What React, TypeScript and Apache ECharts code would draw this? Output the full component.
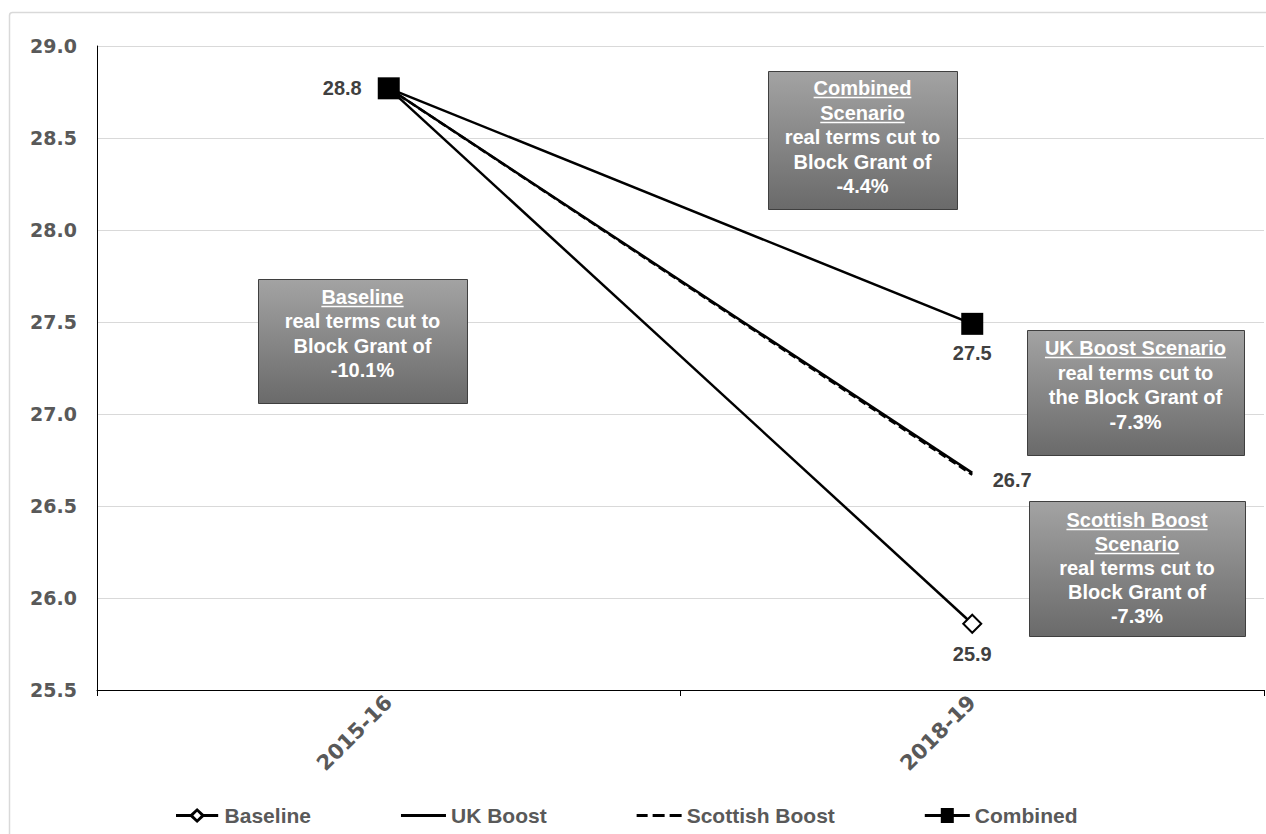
import React, { useEffect, useRef } from "react";
import * as echarts from "echarts";

const categories = ["2015-16", "2018-19"];
const baseline = [28.77, 25.86];
const ukBoost = [28.77, 26.68];
const scottishBoost = [28.77, 26.67];
const combined = [28.77, 27.49];
const seriesNames = ["Baseline", "UK Boost", "Scottish Boost", "Combined"];
const yMin = 25.5;
const yMax = 29.0;
const yInterval = 0.5;

const boxes = [
  { x: 258, y: 279, w: 209, h: 124, firstY: 297, lineH: 24.3, title: ["Baseline"], body: ["real terms cut to", "Block Grant of", "-10.1%"] },
  { x: 768, y: 71, w: 189, h: 138, firstY: 88, lineH: 24.5, title: ["Combined", "Scenario"], body: ["real terms cut to", "Block Grant of", "-4.4%"] },
  { x: 1027, y: 330, w: 217, h: 125, firstY: 348, lineH: 24.6, title: ["UK Boost Scenario"], body: ["real terms cut to", "the Block Grant of", "-7.3%"] },
  { x: 1029, y: 501, w: 216, h: 135, firstY: 520, lineH: 24, title: ["Scottish Boost", "Scenario"], body: ["real terms cut to", "Block Grant of", "-7.3%"] },
];

const FONT = '"Liberation Sans", Arial, sans-serif';

function measure(t: string): number {
  const c = document.createElement("canvas");
  const ctx = c.getContext("2d");
  if (!ctx) return t.length * 11;
  ctx.font = `bold 20px ${FONT}`;
  return ctx.measureText(t).width;
}

function makeBox(b: any) {
  const cx = b.x + b.w / 2;
  const children: any[] = [
    {
      type: "rect",
      z: 100,
      shape: { x: b.x + 0.5, y: b.y + 0.5, width: b.w, height: b.h },
      style: {
        fill: new echarts.graphic.LinearGradient(0, 0, 0, 1, [
          { offset: 0, color: "#a3a3a3" },
          { offset: 1, color: "#6a6a6a" },
        ]),
        stroke: "#3f3f3f",
        lineWidth: 1,
      },
    },
  ];
  const lines = [...b.title, ...b.body];
  lines.forEach((t: string, i: number) => {
    children.push({
      type: "text",
      z: 101,
      x: cx,
      y: b.firstY + i * b.lineH,
      style: {
        text: t,
        fill: "#ffffff",
        font: `bold 20px ${FONT}`,
        textAlign: "center",
        textVerticalAlign: "middle",
        align: "center",
        verticalAlign: "middle",
      },
    });
  });
  b.title.forEach((t: string, i: number) => {
    const tw = measure(t);
    const yy = Math.round(b.firstY + i * b.lineH + 9) + 0.5;
    children.push({
      type: "line",
      z: 101,
      shape: { x1: cx - tw / 2, y1: yy, x2: cx + tw / 2, y2: yy },
      style: { stroke: "#ffffff", lineWidth: 1.5 },
    });
  });
  return { type: "group", z: 100, children };
}

const dataLabel = {
  color: "#404040",
  fontSize: 20,
  fontWeight: "bold",
  fontFamily: FONT,
  formatter: (p: any) => Number(p.value).toFixed(1),
};

const legendItemStyle = { color: "#000000", borderWidth: 0, opacity: 1 };

export default function App() {
  const ref = useRef<HTMLDivElement>(null);
  useEffect(() => {
    if (!ref.current) return;
    const chart = echarts.init(ref.current, null, { renderer: "svg" });
    const option: any = {
      animation: false,
      backgroundColor: "#ffffff",
      color: ["#000000", "#000000", "#000000", "#000000"],
      grid: { left: 97, right: 2, top: 46, bottom: 144 },
      xAxis: {
        type: "category",
        data: categories,
        boundaryGap: true,
        axisLine: { show: true, lineStyle: { color: "#000", width: 1 } },
        axisTick: { show: true, length: 6, lineStyle: { color: "#000" } },
        axisLabel: {
          rotate: 45,
          margin: 9,
          color: "#595959",
          fontSize: 21,
          fontWeight: "bold",
          fontFamily: '"DejaVu Sans", sans-serif',
        },
        splitLine: { show: false },
      },
      yAxis: {
        type: "value",
        min: yMin,
        max: yMax,
        interval: yInterval,
        axisLine: { show: true, lineStyle: { color: "#000", width: 1 } },
        axisTick: { show: false },
        axisLabel: {
          margin: 20,
          color: "#595959",
          fontSize: 19,
          fontWeight: "bold",
          fontFamily: '"DejaVu Sans", sans-serif',
          formatter: (v: number) => v.toFixed(1),
        },
        splitLine: { show: true, lineStyle: { color: "#d9d9d9", width: 1 } },
      },
      legend: {
        left: 171,
        top: 800,
        itemWidth: 45,
        itemHeight: 15,
        itemGap: 90,
        selectedMode: false,
        textStyle: { color: "#595959", fontSize: 21, fontWeight: "bold", fontFamily: FONT },
        data: [
          { name: seriesNames[0], itemStyle: legendItemStyle, icon: "path://M0,6 L15.5,6 L22.5,-0.5 L29.5,6 L45,6 L45,9 L29.5,9 L22.5,15.5 L15.5,9 L0,9 Z M22.5,3.5 L18.5,7.5 L22.5,11.5 L26.5,7.5 Z" },
          { name: seriesNames[1], itemStyle: legendItemStyle, icon: "path://M0,6 L45,6 L45,9 L0,9 Z" },
          { name: seriesNames[2], itemStyle: legendItemStyle, icon: "path://M0,6 h11 v3 h-11 Z M16,6 h12 v3 h-12 Z M33,6 h12 v3 h-12 Z" },
          { name: seriesNames[3], itemStyle: legendItemStyle, icon: "path://M0,6 H16 V0 H29 V6 H45 V9 H29 V15 H16 V9 H0 Z" },
        ],
      },
      series: [
        {
          name: seriesNames[0],
          type: "line",
          data: baseline.map((v, i) => ({ value: v, label: { show: i === 1 } })),
          symbol: "diamond",
          symbolSize: 18,
          showAllSymbol: true,
          itemStyle: { color: "#ffffff", borderColor: "#000000", borderWidth: 2 },
          lineStyle: { color: "#000000", width: 2.5 },
          label: { ...dataLabel, position: "bottom", distance: 10 },
          z: 2,
        },
        {
          name: seriesNames[1],
          type: "line",
          data: ukBoost.map((v, i) => ({ value: v, label: { show: i === 1 } })),
          symbol: "circle",
          symbolSize: 1,
          itemStyle: { color: "rgba(0,0,0,0)", borderWidth: 0 },
          lineStyle: { color: "#000000", width: 2.5 },
          label: { ...dataLabel, position: "right", distance: 20, offset: [0, 7] },
          z: 3,
        },
        {
          name: seriesNames[2],
          type: "line",
          data: scottishBoost,
          symbol: "none",
          itemStyle: { color: "#000000" },
          lineStyle: { color: "#000000", width: 2.5, type: [8, 4] },
          z: 4,
        },
        {
          name: seriesNames[3],
          type: "line",
          data: combined.map((v, i) => ({
            value: v,
            label: i === 0 ? { show: true, position: "left", distance: 16 } : { show: true, position: "bottom", distance: 8 },
          })),
          symbol: "rect",
          symbolSize: 22,
          itemStyle: { color: "#000000" },
          lineStyle: { color: "#000000", width: 2.5 },
          label: { ...dataLabel },
          z: 5,
        },
      ],
      graphic: [
        {
          type: "rect",
          shape: { x: 9.5, y: 12.5, width: 1300, height: 900, r: 3 },
          style: { fill: "none", stroke: "#d9d9d9", lineWidth: 1.5 },
          z: -10,
        },
        ...boxes.map(makeBox),
      ],
    };
    chart.setOption(option);
    return () => chart.dispose();
  }, []);
  return (
    <div
      ref={ref}
      style={{ position: "absolute", left: 0, top: 0, width: 1266, height: 834 }}
    />
  );
}
